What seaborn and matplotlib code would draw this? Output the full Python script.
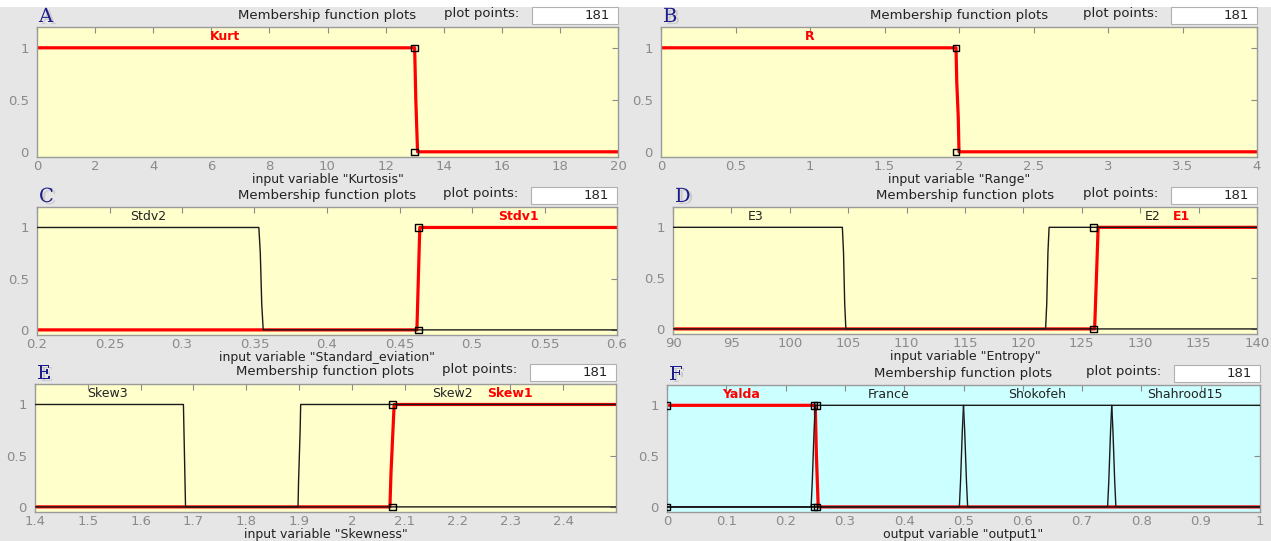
import matplotlib
matplotlib.use("Agg")
import matplotlib.pyplot as plt
import matplotlib.patheffects as pe
from matplotlib.patches import Rectangle
import seaborn as sns

sns.set_theme(style="white")
plt.rcParams["font.family"] = ["DejaVu Sans"]

# ---- data: membership functions (x breakpoints, y membership) ----
kurt_x = [0, 13.0, 13.04, 13.1, 20]
kurt_y = [1, 1, 0.5, 0, 0]

r_x = [0, 1.98, 1.985, 1.995, 2.0, 4]
r_y = [1, 1, 0.67, 0.33, 0, 0]

stdv2_x = [0.2, 0.353, 0.354, 0.355, 0.356, 0.6]
stdv2_y = [1, 1, 0.75, 0.25, 0, 0]
stdv1_x = [0.2, 0.462, 0.463, 0.464, 0.6]
stdv1_y = [0, 0, 0.5, 1, 1]

e3_x = [90, 104.5, 104.6, 104.7, 104.8, 140]
e3_y = [1, 1, 0.75, 0.25, 0, 0]
e2_x = [90, 121.9, 122.0, 122.1, 122.2, 140]
e2_y = [0, 0, 0.25, 0.75, 1, 1]
e1_x = [90, 126.1, 126.25, 126.4, 140]
e1_y = [0, 0, 0.5, 1, 1]

skew3_x = [1.4, 1.681, 1.682, 1.684, 1.685, 2.5]
skew3_y = [1, 1, 0.75, 0.25, 0, 0]
skew2_x = [1.4, 1.898, 1.899, 1.902, 1.903, 2.5]
skew2_y = [0, 0, 0.25, 0.75, 1, 1]
skew1_x = [1.4, 2.072, 2.074, 2.077, 2.080, 2.5]
skew1_y = [0, 0, 0.33, 0.67, 1, 1]

yalda_x = [0, 0.25, 0.252, 0.255, 1]
yalda_y = [1, 1, 0.5, 0, 0]
france_x = [0, 0.243, 0.245, 0.248, 0.25, 0.5, 0.502, 0.505, 0.507, 1]
france_y = [0, 0, 0.25, 0.75, 1, 1, 0.75, 0.25, 0, 0]
shok_x = [0, 0.493, 0.495, 0.498, 0.5, 0.75, 0.752, 0.755, 0.757, 1]
shok_y = [0, 0, 0.25, 0.75, 1, 1, 0.75, 0.25, 0, 0]
shah_x = [0, 0.743, 0.745, 0.748, 0.75, 1]
shah_y = [0, 0, 0.25, 0.75, 1, 1]

# panel specs: letter, pixel box (l, t, r, b), xlim, xticks, xlabel, bg,
# black MFs, red MF, red vertices, labels
panels = [
    dict(letter="A", box=(37, 27, 618, 157), xlim=(0, 20),
         xticks=[0, 2, 4, 6, 8, 10, 12, 14, 16, 18, 20],
         xlabel='input variable "Kurtosis"', bg="#ffffcc",
         black=[], red=(kurt_x, kurt_y),
         verts=([13.0, 13.0], [1, 0]),
         labels=[("Kurt", 6.47, True)]),
    dict(letter="B", box=(661, 27, 1257, 157), xlim=(0, 4),
         xticks=[0, 0.5, 1, 1.5, 2, 2.5, 3, 3.5, 4],
         xlabel='input variable "Range"', bg="#ffffcc",
         black=[], red=(r_x, r_y),
         verts=([1.98, 1.98], [1, 0]),
         labels=[("R", 1.0, True)]),
    dict(letter="C", box=(37, 207, 617, 335), xlim=(0.2, 0.6),
         xticks=[0.2, 0.25, 0.3, 0.35, 0.4, 0.45, 0.5, 0.55, 0.6],
         xlabel='input variable "Standard_eviation"', bg="#ffffcc",
         black=[(stdv2_x, stdv2_y)], red=(stdv1_x, stdv1_y),
         verts=([0.463, 0.463], [1, 0]),
         labels=[("Stdv2", 0.277, False), ("Stdv1", 0.532, True)]),
    dict(letter="D", box=(673, 207, 1257, 334), xlim=(90, 140),
         xticks=[90, 95, 100, 105, 110, 115, 120, 125, 130, 135, 140],
         xlabel='input variable "Entropy"', bg="#ffffcc",
         black=[(e3_x, e3_y), (e2_x, e2_y)], red=(e1_x, e1_y),
         verts=([126.0, 126.0], [1, 0]),
         labels=[("E3", 97.1, False), ("E2", 131.1, False), ("E1", 133.5, True)]),
    dict(letter="E", box=(35, 384, 616, 512), xlim=(1.4, 2.5),
         xticks=[1.4, 1.5, 1.6, 1.7, 1.8, 1.9, 2.0, 2.1, 2.2, 2.3, 2.4],
         xlabel='input variable "Skewness"', bg="#ffffcc",
         black=[(skew3_x, skew3_y), (skew2_x, skew2_y)], red=(skew1_x, skew1_y),
         verts=([2.077, 2.077], [1, 0]),
         labels=[("Skew3", 1.538, False), ("Skew2", 2.19, False), ("Skew1", 2.30, True)]),
    dict(letter="F", box=(667, 385, 1260, 512), xlim=(0, 1),
         xticks=[0, 0.1, 0.2, 0.3, 0.4, 0.5, 0.6, 0.7, 0.8, 0.9, 1],
         xlabel='output variable "output1"', bg="#ccffff",
         black=[(france_x, france_y), (shok_x, shok_y), (shah_x, shah_y)],
         red=(yalda_x, yalda_y),
         verts=([0.0, 0.0, 0.248, 0.253, 0.248, 0.253], [1, 0, 1, 1, 0, 0]),
         labels=[("Yalda", 0.125, True), ("France", 0.374, False),
                 ("Shokofeh", 0.624, False), ("Shahrood15", 0.874, False)]),
]

W, H = 1271, 541
fig = plt.figure(figsize=(W / 100, H / 100), dpi=100, facecolor="#e6e6e6")
fig.patches.append(Rectangle((0, 1 - 7 / H), 1, 7 / H, transform=fig.transFigure,
                             facecolor="white", edgecolor="none"))

GRAY = "#8a8a8a"


def fx(px):
    return px / W


def fy(py):
    return 1 - py / H


for p in panels:
    l, t, r, b = p["box"]
    ax = fig.add_axes([fx(l), fy(b), (r - l) / W, (b - t) / H])
    ax.set_facecolor(p["bg"])

    for xs, ys in p["black"]:
        sns.lineplot(x=xs, y=ys, ax=ax, color="#1a1a1a", linewidth=1.0,
                     sort=False, estimator=None, zorder=3)
    rx, ry = p["red"]
    sns.lineplot(x=rx, y=ry, ax=ax, color="#ff0000", linewidth=2.3,
                 sort=False, estimator=None, zorder=2)
    vx, vy = p["verts"]
    sns.scatterplot(x=vx, y=vy, ax=ax, marker="s", s=22, facecolor="none",
                    edgecolor="black", linewidth=1.0, zorder=4, clip_on=True)

    for name, lx, sel in p["labels"]:
        ax.text(lx, 1.105, name, ha="center", va="center", fontsize=9,
                color="#ff0000" if sel else "#222222",
                fontweight="bold" if sel else "normal")

    ax.set_xlim(*p["xlim"])
    ax.set_ylim(-0.05, 1.2)
    ax.set_xticks(p["xticks"])
    ax.set_xticklabels(["%g" % round(v, 6) for v in p["xticks"]])
    ax.set_yticks([0, 0.5, 1])
    ax.set_yticklabels(["0", "0.5", "1"])
    ax.tick_params(axis="both", direction="in", top=True, right=True,
                   length=4, width=0.8, color=GRAY, labelcolor=GRAY,
                   labelsize=9.5)
    ax.tick_params(axis="x", pad=2)
    ax.tick_params(axis="y", pad=6)
    ax.set_xlabel(p["xlabel"], fontsize=9, color="#222222", labelpad=0)
    ax.set_ylabel("")
    for s in ax.spines.values():
        s.set_color("#9a9a9a")
        s.set_linewidth(1.0)

    # header texts
    cx = (l + r) / 2
    fig.text(fx(cx), fy(t - 12), "Membership function plots", ha="center",
             va="center", fontsize=9.5, color="#222222")
    fig.text(fx(r - 99), fy(t - 14), "plot points:", ha="right", va="center",
             fontsize=9.5, color="#222222")
    fig.patches.append(Rectangle((fx(r - 86), fy(t - 3)), 86 / W, 17 / H,
                                 transform=fig.transFigure, facecolor="white",
                                 edgecolor="#b0b0b0", linewidth=0.8))
    fig.text(fx(r - 8), fy(t - 11.5), "181", ha="right", va="center",
             fontsize=9.5, color="#222222")
    fig.text(fx(l + 2), fy(t - 10), p["letter"], ha="left", va="center",
             fontsize=14, color="#1c1c8a", family="DejaVu Serif",
             path_effects=[pe.withSimplePatchShadow(offset=(2, -1.5),
                                                    shadow_rgbFace="#9a9a9a",
                                                    alpha=0.35)])

fig.savefig("out.png", dpi=100, facecolor=fig.get_facecolor())
